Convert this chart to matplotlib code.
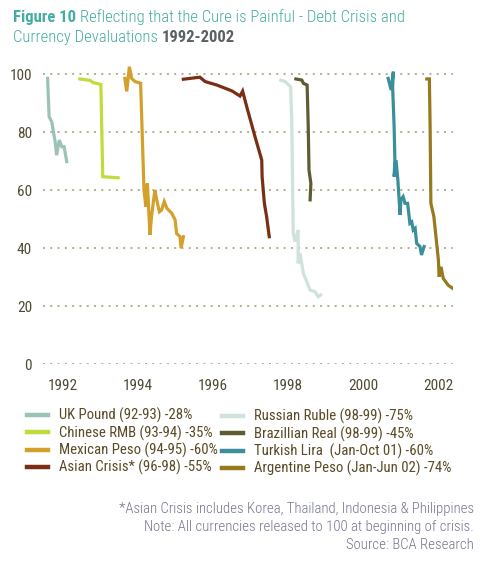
import matplotlib
matplotlib.use("Agg")
import matplotlib.pyplot as plt
import numpy as np

plt.rcParams['font.family'] = ['Roboto Condensed', 'DejaVu Sans']

# series: (time in years, index level, start of crisis = 100)
uk_x = [1991.59, 1991.63, 1991.70, 1991.79, 1991.83, 1991.90, 1991.97, 1992.03, 1992.10]
uk_y = [98.5, 85.3, 83.5, 76.7, 72.0, 77.2, 74.9, 74.9, 69.8]

cn_x = [1992.45, 1992.72, 1992.81, 1993.01, 1993.06, 1993.47]
cn_y = [98.3, 97.8, 97.0, 96.4, 64.6, 64.2]

mx_x = [1993.65, 1993.70, 1993.77, 1993.83, 1993.92, 1994.07, 1994.16, 1994.21, 1994.25,
        1994.32, 1994.36, 1994.45, 1994.50, 1994.57, 1994.63, 1994.70, 1994.77, 1994.90,
        1994.99, 1995.03, 1995.12, 1995.15, 1995.21]
mx_y = [98.5, 94.0, 102.5, 98.5, 97.4, 96.8, 60.0, 54.2, 62.3,
        44.5, 50.8, 60.0, 56.6, 52.5, 53.1, 56.0, 53.7, 52.0,
        49.7, 45.0, 43.9, 39.9, 43.9]

asia_x = [1995.21, 1995.65, 1995.79, 1996.10, 1996.50, 1996.72, 1996.79, 1996.90,
          1997.12, 1997.30, 1997.31, 1997.37, 1997.43, 1997.50]
asia_y = [98.2, 98.9, 97.4, 96.2, 94.2, 92.4, 94.1, 88.7,
          78.4, 70.3, 64.6, 55.4, 50.8, 43.9]

ru_x = [1997.81, 1997.92, 1998.07, 1998.10, 1998.14, 1998.19, 1998.27, 1998.27,
        1998.32, 1998.41, 1998.59, 1998.72, 1998.81, 1998.87]
ru_y = [97.9, 97.4, 95.6, 84.1, 45.1, 42.2, 46.2, 34.7,
        38.2, 31.3, 25.5, 24.9, 23.2, 23.8]

br_x = [1998.21, 1998.37, 1998.41, 1998.51, 1998.54, 1998.56, 1998.61, 1998.59]
br_y = [98.3, 97.9, 96.8, 96.2, 81.8, 66.9, 62.3, 56.6]

tr_x = [2000.67, 2000.75, 2000.81, 2000.79, 2000.83, 2000.85, 2000.83, 2000.88, 2000.93,
        2000.99, 2001.01, 2001.07, 2001.12, 2001.19, 2001.25, 2001.30, 2001.34, 2001.39,
        2001.43, 2001.52, 2001.56, 2001.63]
tr_y = [98.5, 94.5, 100.8, 95.6, 81.8, 70.3, 64.6, 70.3, 63.4,
        51.4, 56.6, 57.7, 55.4, 55.4, 48.5, 49.0, 46.2, 46.8,
        41.6, 40.5, 37.6, 40.5]

ar_x = [2001.70, 2001.77, 2001.79, 2001.81, 2001.89, 2002.01, 2002.03, 2002.08,
        2002.14, 2002.27, 2002.39]
ar_y = [98.3, 98.3, 81.8, 55.4, 50.8, 35.9, 30.1, 33.5, 29.5, 27.2, 26.1]

labels = ["UK Pound (92-93) -28%", "Chinese RMB (93-94) -35%",
          "Mexican Peso (94-95) -60%", "Asian Crisis* (96-98) -55%",
          "Russian Ruble (98-99) -75%", "Brazillian Real (98-99) -45%",
          "Turkish Lira  (Jan-Oct 01) -60%", "Argentine Peso (Jan-Jun 02) -74%"]
colors = ["#9cc2b8", "#bfdc3c", "#d4a02c", "#7a2f14",
          "#cfe2db", "#5e5c32", "#3a8f9b", "#977a1f"]
series = [(uk_x, uk_y), (cn_x, cn_y), (mx_x, mx_y), (asia_x, asia_y),
          (ru_x, ru_y), (br_x, br_y), (tr_x, tr_y), (ar_x, ar_y)]

yticks = [0, 20, 40, 60, 80, 100]
xticks = [1992, 1994, 1996, 1998, 2000, 2002]

W, H = 482, 564
fig = plt.figure(figsize=(W / 100, H / 100), dpi=100)
ax = fig.add_axes([43 / W, 1 - 364 / H, 410 / W, (364 - 62.4) / H])

TICK_C = "#4f4a35"
GRID_C = "#b3ae8c"

for yv in yticks:
    ax.axhline(yv, color=GRID_C, lw=1.4, ls=(0, (1, 2.75)), zorder=0)

handles = []
for (xs, ys), c, lab in zip(series, colors, labels):
    h, = ax.plot(xs, ys, color=c, lw=2.3, label=lab, solid_joinstyle='miter')
    handles.append(h)

ax.set_xlim(1991.467, 2002.4)
ax.set_ylim(0, 104)
ax.set_yticks(yticks)
ax.set_xticks(xticks)
ax.tick_params(length=0, labelsize=11, colors=TICK_C)
ax.tick_params(axis='y', pad=8)
ax.tick_params(axis='x', pad=11)
for s in ax.spines.values():
    s.set_visible(False)

leg_kw = dict(frameon=False, fontsize=10.6, handlelength=1.4, handletextpad=0.78,
              labelspacing=0.14, borderpad=0, borderaxespad=0, labelcolor="#5a4a25")
l1 = fig.legend(handles[:4], labels[:4], loc='upper left',
                bbox_to_anchor=(27 / W, 1 - 408 / H), **leg_kw)
l2 = fig.legend(handles[4:], labels[4:], loc='upper left',
                bbox_to_anchor=(222 / W, 1 - 409 / H), **leg_kw)
for lg in (l1, l2):
    for ln in lg.get_lines():
        ln.set_linewidth(3.2)

# title built from styled pieces
TEAL = "#45ada0"
r = fig.canvas.get_renderer()
def piece(x, y, s, **kw):
    t = fig.text(x / W, 1 - y / H, s, fontsize=11.95, va='baseline', ha='left', **kw)
    bb = t.get_window_extent(renderer=r)
    return x + bb.width + 3.5

x = piece(13, 22, "Figure 10", color=TEAL, fontweight='bold')
piece(x, 22, "Reflecting that the Cure is Painful - Debt Crisis and", color=TEAL,
      fontweight='light')
x = piece(13, 42, "Currency Devaluations", color=TEAL, fontweight='light')
piece(x, 42, "1992-2002", color="#5b5f66", fontweight='bold')

NOTE_C = "#737590"
notes = ["*Asian Crisis includes Korea, Thailand, Indonesia & Philippines",
         "Note: All currencies released to 100 at beginning of crisis.",
         "Source: BCA Research"]
for i, n in enumerate(notes):
    fig.text(474 / W, 1 - (513 + 18 * i) / H, n, fontsize=10.6, color=NOTE_C,
             ha='right', va='baseline', fontweight='light')

fig.savefig("out.png", dpi=100)
